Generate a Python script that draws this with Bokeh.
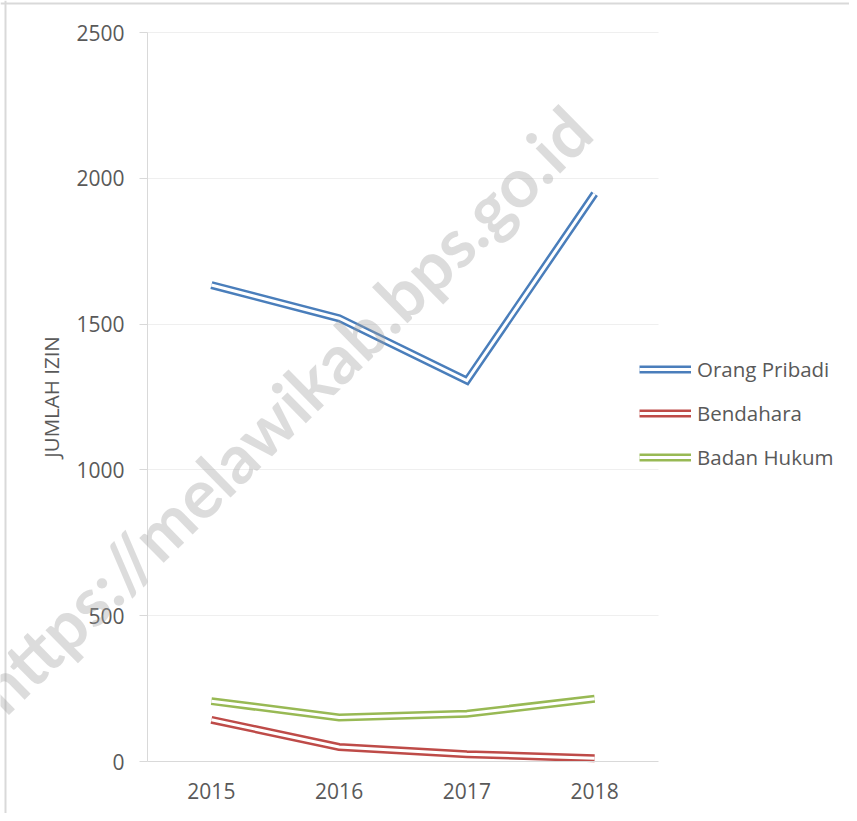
import math
from bokeh.plotting import figure
from bokeh.models import (Range1d, FixedTicker, Legend, LegendItem, Label, Span)
from bokeh.embed import file_html
from bokeh.resources import INLINE

years = ["2015", "2016", "2017", "2018"]
orang_pribadi = [1634, 1520, 1306, 1947]
bendahara = [143, 50, 25, 11]
badan_hukum = [207, 151, 164, 215]
y_ticks = [0, 500, 1000, 1500, 2000, 2500]

series = [
    ("Orang Pribadi", orang_pribadi, "#4A7EBB"),
    ("Bendahara", bendahara, "#BE4B48"),
    ("Badan Hukum", badan_hukum, "#98B954"),
]

xs = list(range(len(years)))
FONT = "Open Sans"
TXT = "#595959"

W, H = 849, 813
# plot-area placement (pixels) within the canvas
FL, FR, FT, FB = 147, 658, 32, 761
x_lo, x_hi = -0.5, len(years) - 0.5
y_lo, y_hi = y_ticks[0], y_ticks[-1]
sx = (FR - FL) / (x_hi - x_lo)
sy = (FB - FT) / (y_hi - y_lo)
xr = Range1d(x_lo - FL / sx, x_hi + (W - FR) / sx)
yr = Range1d(y_lo - (H - FB) / sy, y_hi + FT / sy)

p = figure(width=W, height=H, output_backend="svg", toolbar_location=None,
           x_range=xr, y_range=yr, min_border=0,
           outline_line_color=None)
p.background_fill_color = "white"
p.border_fill_color = "white"

# axes
p.xaxis.fixed_location = y_lo
p.xaxis.bounds = (x_lo, x_hi)
p.xaxis.ticker = FixedTicker(ticks=xs)
p.xaxis.major_label_overrides = {i: y for i, y in enumerate(years)}
p.xaxis.major_tick_line_color = None
p.xaxis.minor_tick_line_color = None
p.xaxis.axis_line_color = "#D9D9D9"
p.xaxis.major_label_standoff = 15
p.yaxis.fixed_location = x_lo
p.yaxis.bounds = (y_lo, y_hi)
p.yaxis.ticker = FixedTicker(ticks=y_ticks)
p.yaxis.axis_line_color = "#D9D9D9"
p.yaxis.major_tick_line_color = "#D9D9D9"
p.yaxis.major_tick_out = 8
p.yaxis.major_tick_in = 0
p.yaxis.minor_tick_line_color = None
p.yaxis.major_label_standoff = 15
p.yaxis.axis_label = "JUMLAH IZIN"
p.yaxis.axis_label_standoff = 8
p.yaxis.axis_label_text_font_style = "normal"
for ax in (p.xaxis, p.yaxis):
    ax.major_label_text_font = FONT
    ax.major_label_text_font_size = "21px"
    ax.major_label_text_color = TXT
    ax.axis_label_text_font = FONT
    ax.axis_label_text_font_size = "20.5px"
    ax.axis_label_text_color = TXT

p.xgrid.grid_line_color = None
p.ygrid.grid_line_color = "#EFEFEF"
p.ygrid.ticker = FixedTicker(ticks=y_ticks[1:])
p.ygrid.bounds = (y_lo, y_hi)
p.ygrid.cross_bounds = (x_lo, x_hi)

# chart-area border (left and top edges)
p.add_layout(Span(location=xr.start + 5 / sx, dimension="height",
                  line_color="#D9D9D9", line_width=2))
p.add_layout(Span(location=yr.end - 3 / sy, dimension="width",
                  line_color="#D9D9D9", line_width=2))

items = []
for name, vals, col in series:
    r1 = p.line(xs, vals, line_color=col, line_width=8, line_join="miter")
    r2 = p.line(xs, vals, line_color="white", line_width=3, line_join="miter")
    items.append(LegendItem(label=name, renderers=[r1, r2]))

legend = Legend(items=items, location=(639, 342), orientation="vertical",
                glyph_width=52, glyph_height=20, label_height=20,
                label_standoff=6, spacing=16, padding=0, margin=0,
                border_line_alpha=0, background_fill_alpha=0,
                label_text_font=FONT, label_text_font_size="20.5px",
                label_text_color=TXT)
p.add_layout(legend, "center")

wm = Label(x=0.56, y=1210, text="https://melawikab.bps.go.id",
           angle=math.radians(44.5), text_align="center",
           text_baseline="alphabetic", text_font="Lato",
           text_font_style="bold", text_font_size="68px",
           text_color="#A0A0A0", text_alpha=0.37)
p.add_layout(wm)

open("out.html", "w").write(file_html(p, INLINE))
